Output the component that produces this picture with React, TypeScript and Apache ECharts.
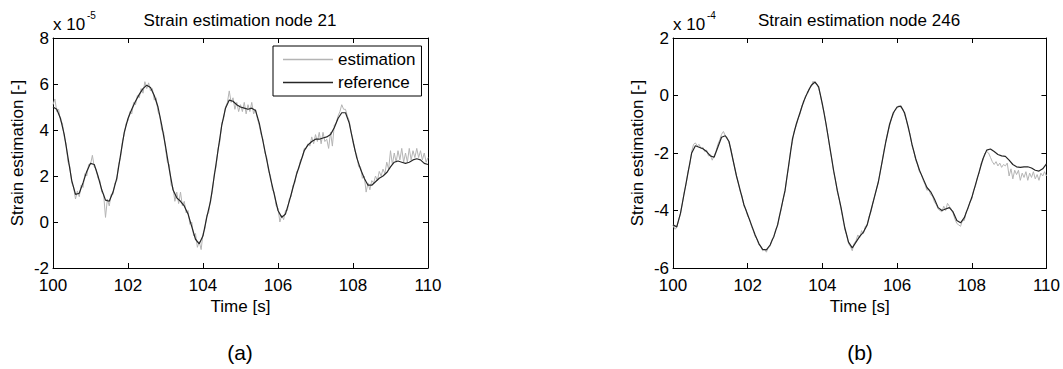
import React, { useEffect, useRef } from "react";
import * as echarts from "echarts";

// Time axis
const T_START = 100;
const REF_STEP = 0.1;
const EST_STEP = 0.05;

// Node 21 (x 10^-5)
const refNode21 = [
  5.0, 4.9, 4.5, 3.8, 2.8, 1.8, 1.2, 1.25, 1.7, 2.2,
  2.55, 2.5, 2.0, 1.4, 0.95, 0.9, 1.3, 1.9, 2.9, 3.9,
  4.5, 4.9, 5.25, 5.55, 5.8, 5.95, 5.85, 5.5, 5.0, 4.2,
  3.3, 2.3, 1.4, 1.05, 0.9, 0.7, 0.35, -0.2, -0.75, -0.95,
  -0.6, 0.2, 0.9, 2.0, 3.1, 4.2, 4.95, 5.3, 5.25, 5.1,
  5.0, 4.95, 4.9, 4.95, 4.85, 4.3, 3.5, 2.7, 1.9, 1.2,
  0.5, 0.2, 0.35, 0.9, 1.5, 2.1, 2.6, 3.1, 3.35, 3.5,
  3.6, 3.6, 3.65, 3.7, 3.8, 4.1, 4.5, 4.75, 4.75, 4.3,
  3.5, 2.8, 2.3, 1.9, 1.6, 1.6, 1.75, 1.9, 2.0, 2.15,
  2.4, 2.6, 2.65, 2.6, 2.55, 2.6, 2.7, 2.75, 2.7, 2.55,
  2.5,
];
const estNode21 = [
  5.1, 5.35, 4.8, 4.9, 4.4, 4.3, 3.7, 3.4, 2.6, 2.4,
  1.7, 1.5, 1.0, 1.35, 1.1, 1.6, 1.5, 2.1, 2.0, 2.5,
  2.5, 2.9, 2.4, 2.3, 1.9, 1.8, 1.3, 1.2, 0.2, 1.0,
  0.7, 1.2, 1.2, 1.7, 1.8, 2.5, 2.8, 3.5, 3.8, 4.3,
  4.4, 4.8, 4.7, 5.2, 5.1, 5.5, 5.4, 5.8, 5.6, 6.1,
  5.8, 6.05, 5.7, 5.8, 5.3, 5.4, 4.8, 4.6, 4.0, 3.9,
  3.2, 2.6, 2.5, 1.6, 1.5, 0.9, 1.3, 0.8, 1.3, 0.7,
  0.9, 0.4, 0.5, -0.1, 0.0, -0.6, -0.5, -1.1, -0.85, -1.2,
  -0.5, -0.3, 0.3, 0.4, 1.0, 1.3, 2.1, 2.4, 3.2, 3.5,
  4.3, 4.5, 5.0, 5.2, 5.7, 5.2, 5.4, 4.9, 5.2, 4.8,
  5.1, 4.8, 5.2, 4.7, 5.1, 4.8, 5.2, 4.7, 4.9, 4.5,
  4.2, 3.8, 3.6, 3.0, 2.8, 2.2, 2.0, 1.4, 1.3, 0.7,
  0.6, 0.0, 0.3, 0.1, 0.5, 0.5, 1.0, 1.1, 1.6, 1.7,
  2.2, 2.3, 2.7, 2.8, 3.2, 3.2, 3.4, 3.3, 3.7, 3.4,
  3.8, 3.5, 3.9, 3.4, 3.9, 3.5, 3.6, 3.2, 3.9, 3.3,
  4.2, 4.3, 4.6, 4.8, 5.1, 4.9, 4.9, 4.6, 4.4, 3.9,
  3.6, 3.1, 2.9, 2.4, 2.4, 1.9, 2.0, 1.3, 1.7, 1.4,
  1.8, 1.7, 2.0, 1.8, 2.2, 2.0, 2.3, 2.1, 2.6, 2.3,
  3.1, 2.5, 3.0, 2.6, 3.1, 2.7, 3.2, 2.6, 3.0, 2.6,
  3.2, 2.7, 3.1, 2.8, 3.2, 2.8, 3.1, 2.7, 3.0, 2.6,
  2.8,
];

// Node 246 (x 10^-4)
const refNode246 = [
  -4.5, -4.57, -4.1, -3.4, -2.7, -2.0, -1.75, -1.8, -1.85, -1.95,
  -2.1, -2.15, -1.8, -1.45, -1.4, -1.6, -2.2, -2.8, -3.3, -3.8,
  -4.15, -4.5, -4.85, -5.15, -5.35, -5.37, -5.2, -4.9, -4.5, -3.9,
  -3.3, -2.4, -1.5, -1.0, -0.6, -0.2, 0.1, 0.35, 0.47, 0.3,
  -0.3, -1.0, -1.8, -2.6, -3.3, -3.9, -4.6, -5.1, -5.3, -5.1,
  -4.9, -4.75, -4.5, -4.0, -3.5, -3.0, -2.3, -1.6, -1.0, -0.6,
  -0.4, -0.37, -0.6, -1.1, -1.7, -2.2, -2.6, -2.9, -3.2, -3.35,
  -3.6, -3.9, -4.0, -3.95, -3.9, -4.05, -4.35, -4.43, -4.25, -3.9,
  -3.55, -3.1, -2.65, -2.2, -1.9, -1.86, -1.95, -2.05, -2.1, -2.12,
  -2.25, -2.4, -2.48, -2.5, -2.48, -2.48, -2.52, -2.6, -2.63, -2.55,
  -2.38,
];
const estNode246 = [
  -4.5, -4.65, -4.6, -4.35, -4.1, -3.75, -3.35, -3.1, -2.65, -2.4,
  -1.95, -1.7, -1.65, -1.75, -1.7, -1.85, -1.8, -1.95, -1.9, -2.1,
  -2.05, -2.25, -2.1, -1.95, -1.7, -1.55, -1.35, -1.25, -1.4, -1.45,
  -1.65, -1.85, -2.2, -2.5, -2.8, -3.05, -3.35, -3.5, -3.85, -3.95,
  -4.2, -4.3, -4.55, -4.7, -4.9, -5.0, -5.2, -5.25, -5.4, -5.35,
  -5.45, -5.3, -5.25, -5.0, -4.95, -4.65, -4.55, -4.2, -3.95, -3.6,
  -3.35, -2.85, -2.45, -1.9, -1.6, -1.2, -1.05, -0.8, -0.65, -0.35,
  -0.25, 0.0, 0.05, 0.25, 0.3, 0.5, 0.42, 0.4, 0.25, 0.0,
  -0.35, -0.6, -1.05, -1.4, -1.85, -2.2, -2.65, -2.95, -3.35, -3.6,
  -3.95, -4.3, -4.65, -4.85, -5.15, -5.25, -5.4, -5.15, -5.05, -4.85,
  -4.95, -4.7, -4.8, -4.55, -4.5, -4.2, -4.05, -3.75, -3.5, -3.25,
  -3.0, -2.65, -2.3, -1.9, -1.6, -1.3, -1.05, -0.8, -0.65, -0.5,
  -0.45, -0.35, -0.42, -0.45, -0.65, -0.85, -1.15, -1.35, -1.75, -1.95,
  -2.25, -2.4, -2.65, -2.75, -2.95, -3.1, -3.3, -3.25, -3.45, -3.5,
  -3.7, -3.8, -3.95, -4.0, -4.05, -3.85, -4.0, -3.75, -3.85, -3.95,
  -4.1, -4.3, -4.45, -4.5, -4.55, -4.35, -4.35, -4.05, -3.95, -3.7,
  -3.6, -3.3, -3.15, -2.85, -2.7, -2.35, -2.25, -2.0, -1.95, -2.0,
  -2.15, -2.3, -2.4, -2.3, -2.45, -2.35, -2.5, -2.4, -2.45, -2.35,
  -2.8, -2.55, -2.9, -2.6, -2.75, -2.6, -2.95, -2.7, -2.85, -2.65,
  -2.95, -2.7, -2.85, -2.65, -2.9, -2.75, -2.95, -2.7, -2.8, -2.65,
  -2.8,
];

const FONT = "'Liberation Sans', Arial, Helvetica, sans-serif";
const FS = 17;

const toPairs = (vals: number[], step: number) =>
  vals.map((v, i) => [Number((T_START + i * step).toFixed(2)), v]);

export default function App() {
  const ref = useRef<HTMLDivElement>(null);

  useEffect(() => {
    if (!ref.current) return;
    const chart = echarts.init(ref.current, undefined, { renderer: "svg" });

    const axisLine = { show: true, onZero: false, lineStyle: { color: "#000", width: 1 } };
    const tick = { show: true, inside: true, length: 5, lineStyle: { color: "#000" } };
    const label = { color: "#000", fontSize: FS, fontFamily: FONT, lineHeight: 16 };

    const mkX = (gridIndex: number, top: boolean) => ({
      type: "value",
      gridIndex,
      position: top ? "top" : "bottom",
      min: 100,
      max: 110,
      interval: 2,
      axisLine,
      axisTick: tick,
      axisLabel: top ? { show: false } : { ...label, margin: 9 },
      splitLine: { show: false },
      name: top ? "" : "Time [s]",
      nameLocation: "middle",
      nameGap: 26,
      nameTextStyle: { color: "#000", fontSize: FS, fontFamily: FONT },
    });
    const mkY = (gridIndex: number, right: boolean, min: number, max: number) => ({
      type: "value",
      gridIndex,
      position: right ? "right" : "left",
      min,
      max,
      interval: 2,
      axisLine,
      axisTick: tick,
      axisLabel: right ? { show: false } : { ...label, margin: 4 },
      splitLine: { show: false },
      name: right ? "" : "Strain estimation [-]",
      nameLocation: "middle",
      nameGap: 27,
      nameTextStyle: { color: "#000", fontSize: FS, fontFamily: FONT },
    });

    const estStyle = { color: "#b4b4b4", width: 1 };
    const refStyle = { color: "#262626", width: 1.2 };

    const txt = (text: string, x: number, y: number, size: number, align = "left") => ({
      type: "text",
      x,
      y,
      style: {
        text,
        fill: "#000",
        font: `${size}px ${FONT}`,
        fontSize: size,
        fontFamily: FONT,
        align,
        textAlign: align,
        verticalAlign: "middle",
        textVerticalAlign: "middle",
      },
    });

    chart.setOption({
      animation: false,
      backgroundColor: "#fff",
      grid: [
        { left: 53, top: 38, width: 375, height: 230 },
        { left: 673, top: 38, width: 374, height: 230 },
      ],
      xAxis: [mkX(0, false), mkX(0, true), mkX(1, false), mkX(1, true)],
      yAxis: [mkY(0, false, -2, 8), mkY(0, true, -2, 8), mkY(1, false, -6, 2), mkY(1, true, -6, 2)],
      legend: {
        data: [
          { name: "estimation", icon: "rect" },
          { name: "reference", icon: "rect" },
        ],
        orient: "vertical",
        left: 273,
        top: 46,
        itemWidth: 50,
        itemHeight: 1.3,
        itemGap: 6,
        padding: [5, 6, 5, 10],
        borderColor: "#000",
        borderWidth: 1,
        backgroundColor: "#fff",
        selectedMode: false,
        textStyle: { color: "#000", fontSize: FS, fontFamily: FONT, lineHeight: 16 },
      },
      graphic: [
        txt("Strain estimation node 21", 240, 20, FS, "center"),
        txt("Strain estimation node 246", 859, 20, FS, "center"),
        txt("x 10", 53, 24, FS),
        txt("-5", 87, 15, 10),
        txt("x 10", 673, 24, FS),
        txt("-4", 707, 15, 10),
        txt("(a)", 240, 352, 21, "center"),
        txt("(b)", 860, 352, 21, "center"),
      ],
      series: [
        {
          name: "estimation",
          type: "line",
          xAxisIndex: 0,
          yAxisIndex: 0,
          data: toPairs(estNode21, EST_STEP),
          symbol: "none",
          lineStyle: estStyle,
          itemStyle: { color: estStyle.color },
          z: 2,
        },
        {
          name: "reference",
          type: "line",
          xAxisIndex: 0,
          yAxisIndex: 0,
          data: toPairs(refNode21, REF_STEP),
          symbol: "none",
          lineStyle: refStyle,
          itemStyle: { color: refStyle.color },
          z: 3,
        },
        {
          name: "estimation",
          type: "line",
          xAxisIndex: 2,
          yAxisIndex: 2,
          data: toPairs(estNode246, EST_STEP),
          symbol: "none",
          lineStyle: estStyle,
          itemStyle: { color: estStyle.color },
          z: 2,
        },
        {
          name: "reference",
          type: "line",
          xAxisIndex: 2,
          yAxisIndex: 2,
          data: toPairs(refNode246, REF_STEP),
          symbol: "none",
          lineStyle: refStyle,
          itemStyle: { color: refStyle.color },
          z: 3,
        },
      ],
    });

    return () => chart.dispose();
  }, []);

  return (
    <div
      ref={ref}
      style={{ position: "fixed", left: 0, top: 0, width: 1063, height: 369, background: "#fff" }}
    />
  );
}
